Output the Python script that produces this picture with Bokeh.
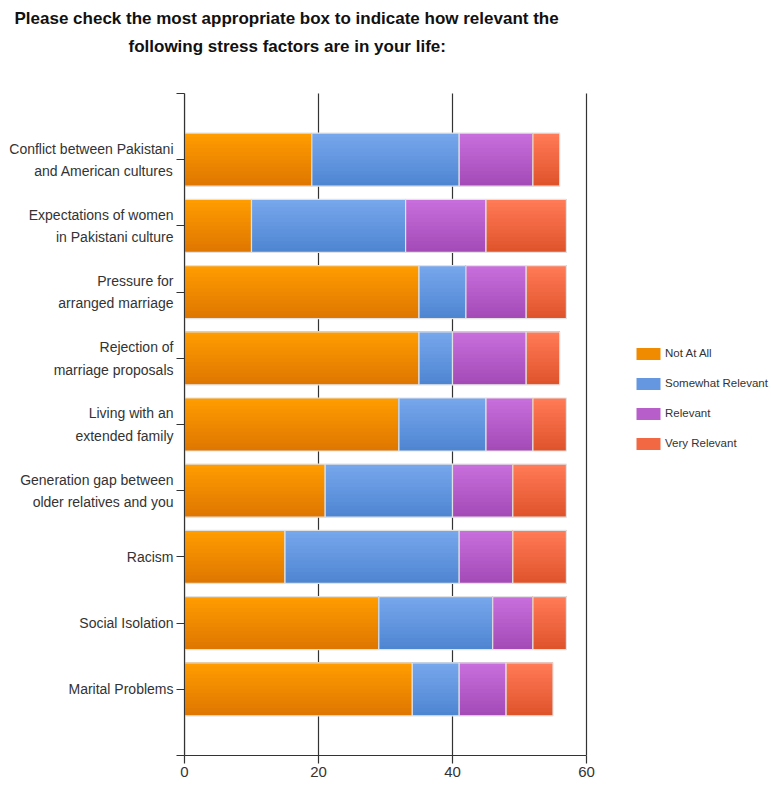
from bokeh.plotting import figure
from bokeh.models import Range1d, FixedTicker, Legend, LegendItem, Title
from bokeh.embed import file_html
from bokeh.resources import INLINE

# ---- data ----
categories = [
    "Conflict between Pakistani\nand American cultures",
    "Expectations of women\nin Pakistani culture",
    "Pressure for\narranged marriage",
    "Rejection of\nmarriage proposals",
    "Living with an\nextended family",
    "Generation gap between\nolder relatives and you",
    "Racism",
    "Social Isolation",
    "Marital Problems",
]
not_at_all = [19, 10, 35, 35, 32, 21, 15, 29, 34]
somewhat_relevant = [22, 23, 7, 5, 13, 19, 26, 17, 7]
relevant = [11, 12, 9, 11, 7, 9, 8, 6, 7]
very_relevant = [4, 12, 6, 5, 5, 8, 8, 5, 7]
series_names = ["Not At All", "Somewhat Relevant", "Relevant", "Very Relevant"]
x_ticks = [0, 20, 40, 60]
title_line1 = "Please check the most appropriate box to indicate how relevant the"
title_line2 = "following stress factors are in your life:"

# ---- style / layout ----
FONT = "Liberation Sans"
top_colors = ["#FF9C00", "#76A6EC", "#C86EDC", "#FF7A56"]
bottom_colors = ["#DF7700", "#4F86D2", "#A44BB8", "#E0542C"]
GRAD_STEPS = 14
BAR_H = 0.8
W, H = 771, 785
LEFT, BOTTOM, TOP = 184, 30, 59   # frame borders in px
AXIS_PX = 402                     # pixel length of the 0..60 value axis
SLOT_PX = 66.2                    # pixel height of one category slot


def mix(c1, c2, t):
    a = [int(c1[i:i + 2], 16) for i in (1, 3, 5)]
    b = [int(c2[i:i + 2], 16) for i in (1, 3, 5)]
    return "#%02X%02X%02X" % tuple(round(a[j] + (b[j] - a[j]) * t) for j in range(3))


n = len(categories)
ypos = [n - i for i in range(n)]
x_max = x_ticks[-1]
x_end = x_max * (W - LEFT) / AXIS_PX
y_end = (H - BOTTOM - TOP) / SLOT_PX

p = figure(width=W, height=H, x_range=Range1d(0, x_end), y_range=Range1d(0, y_end),
           output_backend="svg", toolbar_location=None, title=None,
           min_border_left=LEFT, min_border_right=0, min_border_top=TOP,
           min_border_bottom=BOTTOM)
p.outline_line_color = None
p.background_fill_color = "white"
p.border_fill_color = "white"
p.xgrid.visible = False
p.ygrid.visible = False

# vertical grid lines (only over the axis extent)
p.segment(x0=x_ticks, x1=x_ticks, y0=[0] * len(x_ticks), y1=[n + 1] * len(x_ticks),
          line_color="#333333", line_width=1.2)

series = [not_at_all, somewhat_relevant, relevant, very_relevant]
lefts = [0] * n
legend_items = []
for s_idx, vals in enumerate(series):
    rights = [lefts[i] + vals[i] for i in range(n)]
    legend_r = None
    for k in range(GRAD_STEPS):
        frac = 1 - k / GRAD_STEPS
        h = BAR_H * frac
        yc = [y + BAR_H / 2 - h / 2 for y in ypos]
        col = mix(bottom_colors[s_idx], top_colors[s_idx], k / (GRAD_STEPS - 1))
        r = p.hbar(y=yc, left=lefts, right=rights, height=h, fill_color=col, line_color=None)
        if k == GRAD_STEPS // 2:
            legend_r = r
    p.hbar(y=ypos, left=lefts, right=rights, height=BAR_H, fill_alpha=0,
           line_color="#E2E2E2", line_width=1.2)
    legend_items.append(LegendItem(label=series_names[s_idx], renderers=[legend_r]))
    lefts = rights

# x axis
p.xaxis.bounds = (0, x_max)
p.xaxis.ticker = FixedTicker(ticks=x_ticks)
p.xaxis.axis_line_color = "#333333"
p.xaxis.axis_line_width = 1.2
p.xaxis.major_tick_line_color = "#333333"
p.xaxis.major_tick_line_width = 1.2
p.xaxis.major_tick_out = 8
p.xaxis.major_tick_in = 0
p.xaxis.minor_tick_line_color = None
p.xaxis.major_label_text_font = FONT
p.xaxis.major_label_text_font_size = "15px"
p.xaxis.major_label_text_color = "#333333"
p.xaxis.major_label_standoff = 3

# y axis
p.yaxis.bounds = (0, n + 1)
p.yaxis.ticker = FixedTicker(ticks=list(range(0, n + 2)))
overrides = {0: "", n + 1: ""}
for i, y in enumerate(ypos):
    overrides[y] = categories[i]
p.yaxis.major_label_overrides = overrides
p.yaxis.axis_line_color = "#333333"
p.yaxis.axis_line_width = 1.2
p.yaxis.major_tick_line_color = "#333333"
p.yaxis.major_tick_line_width = 1.2
p.yaxis.major_tick_out = 8
p.yaxis.major_tick_in = 0
p.yaxis.minor_tick_line_color = None
p.yaxis.major_label_text_font = FONT
p.yaxis.major_label_text_font_size = "14px"
p.yaxis.major_label_text_color = "#333333"
p.yaxis.major_label_text_line_height = 1.4
p.yaxis.major_label_standoff = 3

legend = Legend(items=legend_items, location=(449, 302), orientation="vertical",
                glyph_width=30, glyph_height=15, label_standoff=2, spacing=10,
                label_height=20, padding=0, margin=0, border_line_color=None,
                background_fill_alpha=0, label_text_font=FONT,
                label_text_font_size="11.5px", label_text_color="#333333")
p.add_layout(legend, "center")

t2 = Title(text=title_line2, align="left", offset=-56, text_font=FONT,
           text_font_size="17px", text_font_style="bold", text_color="#111111",
           standoff=7)
t1 = Title(text=title_line1, align="left", offset=-170, text_font=FONT,
           text_font_size="17px", text_font_style="bold", text_color="#111111",
           standoff=7)
p.add_layout(t2, "above")
p.add_layout(t1, "above")

open("out.html", "w").write(file_html(p, INLINE))
